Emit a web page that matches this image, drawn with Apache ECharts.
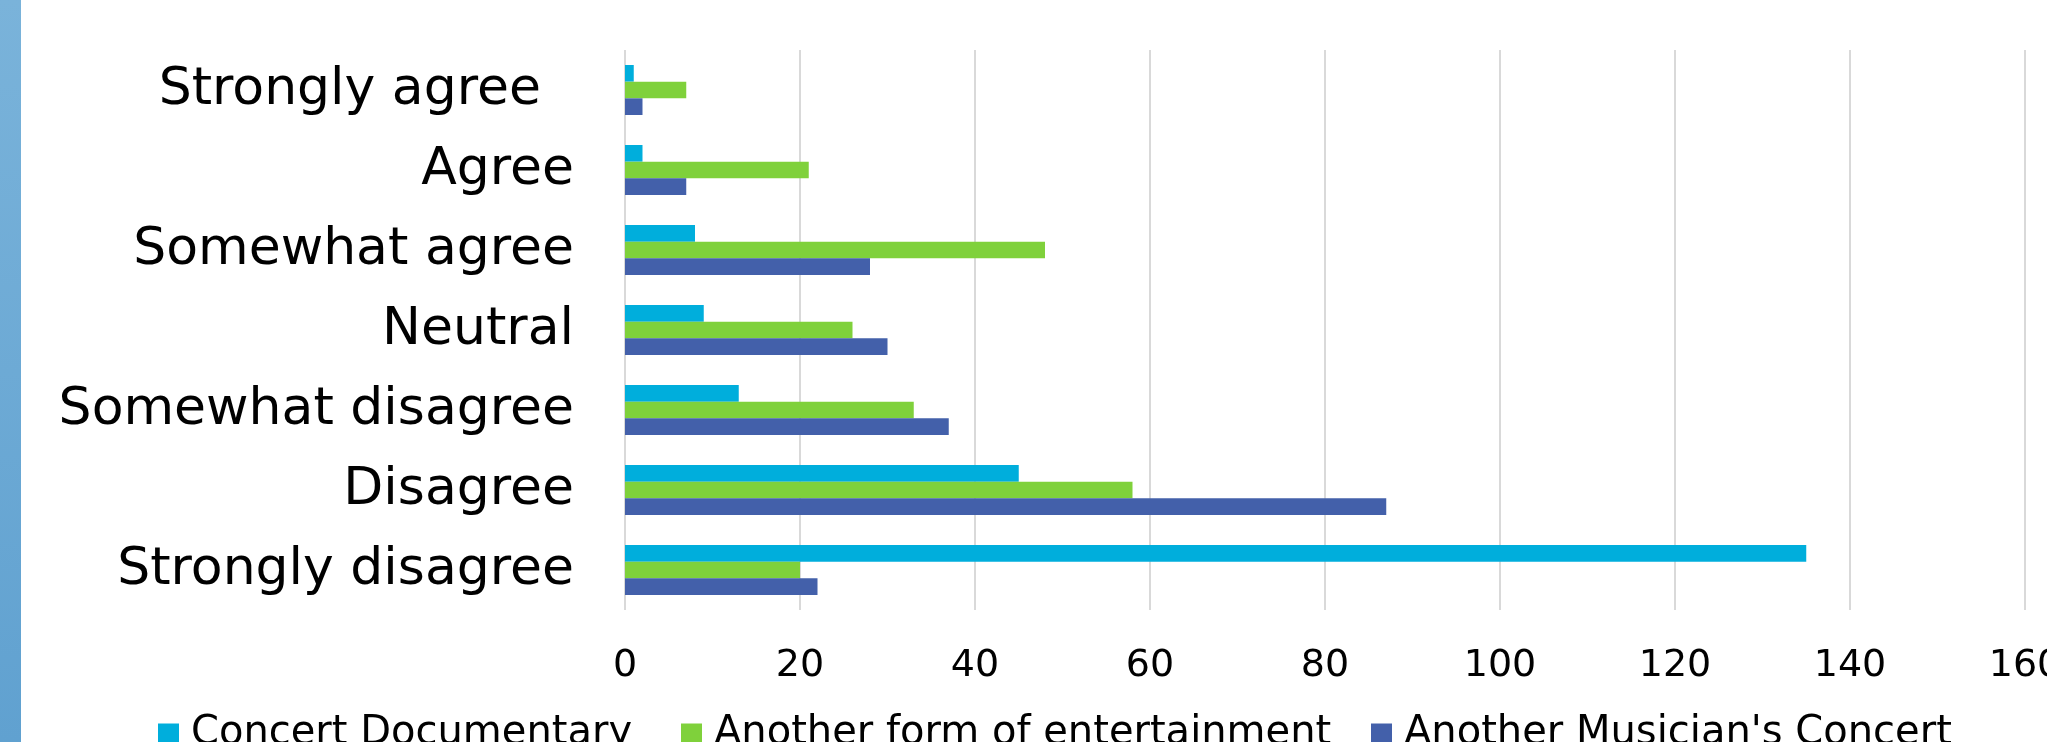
<!DOCTYPE html>
<html>
<head>
<meta charset="utf-8">
<script src="https://cdn.jsdelivr.net/npm/echarts@6/dist/echarts.min.js"></script>
<style>
  html, body { margin: 0; padding: 0; background: #ffffff; }
  #chart { width: 2047px; height: 742px; }
</style>
</head>
<body>
<div id="chart"></div>
<script>
// Responses, listed top to bottom as they appear on the axis
const categories = [
  'Strongly agree  ',
  'Agree',
  'Somewhat agree',
  'Neutral',
  'Somewhat disagree',
  'Disagree',
  'Strongly disagree'
];

const seriesNames = [
  'Concert Documentary',
  'Another form of entertainment',
  "Another Musician's Concert"
];

const concertDocumentary = [1, 2, 8, 9, 13, 45, 135];
const anotherEntertainment = [7, 21, 48, 26, 33, 58, 20];
const anotherMusiciansConcert = [2, 7, 28, 30, 37, 87, 22];

const xTicks = { min: 0, max: 160, interval: 20 };

const colors = ['#00aedc', '#7fd13b', '#4360aa'];
const font = 'DejaVu Sans';

const chart = echarts.init(document.getElementById('chart'), null, { renderer: 'canvas' });

const values = [concertDocumentary, anotherEntertainment, anotherMusiciansConcert];

// one legend block per series so each swatch sits at its own x
const legendLefts = [158, 681, 1371];

chart.setOption({
  animation: false,
  backgroundColor: '#ffffff',
  graphic: [{
    type: 'rect',
    left: 0, top: 0,
    shape: { width: 21, height: 742 },
    style: {
      fill: new echarts.graphic.LinearGradient(0, 0, 0, 1, [
        { offset: 0, color: '#7ab3da' },
        { offset: 1, color: '#60a1d0' }
      ])
    },
    silent: true
  }],
  legend: seriesNames.map((name, i) => ({
    data: [name],
    left: legendLefts[i],
    top: 714,
    padding: 0,
    icon: 'rect',
    itemWidth: 21,
    itemHeight: 21,
    textStyle: { fontFamily: font, fontSize: 40, color: '#000000', padding: [0, 0, 0, 7] }
  })),
  grid: {
    left: 625, right: 22, top: 50, bottom: 132,
    containLabel: false,
    outerBoundsMode: 'none'
  },
  xAxis: {
    type: 'value',
    min: xTicks.min,
    max: xTicks.max,
    interval: xTicks.interval,
    axisLine: { show: false },
    axisTick: { show: false },
    axisLabel: { fontFamily: font, fontSize: 38, color: '#000000', margin: 37 },
    splitLine: { show: true, lineStyle: { color: '#d9d9d9', width: 2 } }
  },
  yAxis: {
    type: 'category',
    inverse: true,
    data: categories,
    axisLine: { show: false },
    axisTick: { show: false },
    axisLabel: { fontFamily: font, fontSize: 52, color: '#000000', margin: 51 }
  },
  series: seriesNames.map((name, i) => ({
    name: name,
    type: 'bar',
    data: values[i],
    itemStyle: { color: colors[i] },
    barGap: '0%',
    barCategoryGap: '37.5%'
  }))
});
</script>
</body>
</html>
